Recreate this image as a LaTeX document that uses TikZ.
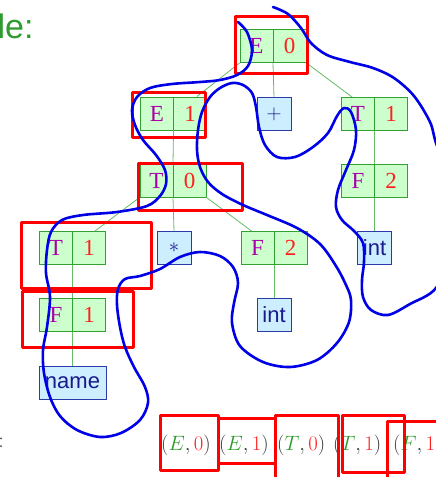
\documentclass[tikz,border=0pt]{standalone}
\usepackage{fontspec}
\newfontfamily\sansf{Liberation Sans}
\newfontfamily\seriff{Liberation Serif}
\definecolor{gfill}{HTML}{CCFFCC}
\definecolor{gdraw}{HTML}{33A033}
\definecolor{gedge}{HTML}{66BB66}
\definecolor{bfill}{HTML}{CCEEFF}
\definecolor{bdraw}{HTML}{2A3AAA}
\definecolor{btext}{HTML}{1A1A8C}
\definecolor{mag}{HTML}{AA00AA}
\definecolor{numred}{HTML}{FF2020}
\definecolor{ttlgreen}{HTML}{2E9B2E}
\definecolor{mgreen}{HTML}{2A9A2A}
\definecolor{penblue}{HTML}{0000E6}
\tikzset{
  gbox/.style={draw=gdraw, fill=gfill, line width=0.9pt, minimum width=66pt, minimum height=33pt, inner sep=0pt},
  bbox/.style={draw=bdraw, fill=bfill, line width=0.9pt, minimum width=34pt, minimum height=33pt, inner sep=0pt, text=btext, font=\sansf\fontsize{22}{24}\selectfont},
  cell/.style={inner sep=0pt, font=\seriff\fontsize{23}{25}\selectfont},
  tedge/.style={draw=gedge, line width=0.8pt},
  redmark/.style={draw=red, line width=3pt, line join=round},
  pen/.style={draw=penblue, line width=2.6pt, line cap=round, line join=round},
  tuple/.style={anchor=base west, inner sep=0pt, text=black!80, font=\fontsize{22}{24}\selectfont},
}
\newcommand\gbx[5]{%
  \node[gbox] (#1) at (#2,#3) {};
  \draw[draw=gdraw, line width=0.9pt] (#1.north) -- (#1.south);
  \node[cell, text=mag] (#1-l) at ([xshift=-16.5pt]#1.center) {#4};
  \node[cell, text=numred] (#1-r) at ([xshift=16.5pt]#1.center) {#5};
}
\newcommand\tpl[2]{$({\color{mgreen}#1},{\color{numred}#2})$}
\begin{document}
\begin{tikzpicture}[x=1pt,y=-1pt]
\useasboundingbox (0,0) rectangle (436,477);
% title fragments
\node[anchor=base west, inner sep=0pt, text=ttlgreen, font=\sansf\fontsize{34}{36}\selectfont] (title) at (-2.5,38) {le:};
\node[anchor=base west, inner sep=0pt, text=black!80, font=\fontsize{22}{24}\selectfont] (colon) at (-1.8,447) {:};
% tree nodes
\gbx{E0}{273}{46}{E}{0}
\gbx{E1}{173.5}{113.5}{E}{1}
\gbx{T1r}{374.5}{114}{T}{1}
\gbx{T0}{173}{180.5}{T}{0}
\gbx{F2r}{374.5}{181}{F}{2}
\gbx{T1l}{72.5}{248}{T}{1}
\gbx{F2m}{274}{248}{F}{2}
\gbx{F1}{72.5}{315}{F}{1}
\node[bbox] (plus) at (274,114) {$+$};
\node[bbox] (star) at (174,248) {$\ast$};
\node[bbox] (intR) at (374.5,248) {int};
\node[bbox] (intM) at (274,315) {int};
\node[bbox, minimum width=67pt] (name) at (72.5,382.5) {name};
% tree edges
\draw[tedge] (E0.south west) -- ([xshift=-10pt]E1.north east);
\draw[tedge] (E0.south) -- (plus.north);
\draw[tedge] (E0.south east) -- ([xshift=11pt]T1r.north west);
\draw[tedge] (E1.south) -- (T0.north);
\draw[tedge] (T1r.south) -- (F2r.north);
\draw[tedge] (F2r.south) -- (intR.north);
\draw[tedge] (T0.south west) -- ([xshift=-11pt]T1l.north east);
\draw[tedge] (T0.south) -- (star.north);
\draw[tedge] (T0.south east) -- ([xshift=11pt]F2m.north west);
\draw[tedge] (T1l.south) -- (F1.north);
\draw[tedge] (F2m.south) -- (intM.north);
\draw[tedge] (F1.south) -- (name.north);
% handle sequence
\node[tuple] (h1) at (161,450) {\tpl{E}{0}};
\node[tuple] (h2) at (219,450) {\tpl{E}{1}};
\node[tuple] (h3) at (277,450) {\tpl{T}{0}};
\node[tuple] (h4) at (333,450) {\tpl{T}{1}};
\node[tuple] (h5) at (393,450) {$({\color{mgreen}F},{\color{numred}1}$};
% red annotation boxes
\draw[redmark] (235,16) rectangle (307,73);
\draw[redmark] (132,92) rectangle (205,137);
\draw[redmark] (138,163) rectangle (242,210);
\draw[redmark] (21,222) rectangle (151,288);
\draw[redmark] (22,291) rectangle (133,347);
\draw[redmark] (160,415) rectangle (218,470);
\draw[redmark] (218,418) rectangle (275,463);
\draw[redmark] (275,415) rectangle (338,485);
\draw[redmark] (342,415) rectangle (404,472);
\draw[redmark] (387,421) rectangle (450,480);
% freehand blue stroke
\draw[pen] plot[smooth, tension=0.55] coordinates {
(238,22) (247,32) (252,50) (248,66) (237,75) (220,80) (200,82) (172,84) (150,88) (137,97) (132,110) (135,125) (143,140) (156,155) (165,170) (166,184) (160,196) (147,206) (117,212) (83,215) (62,220) (51,232) (47,250) (46,273) (50,297) (47,327) (43,350) (44,373) (50,397) (60,416) (77,430) (100,437) (121,433) (140,420) (148,403) (145,387) (134,367) (125,347) (120,327) (117,305) (118,289) (125,279) (140,276) (160,269) (180,257) (200,252) (220,256) (233,267) (238,283) (234,303) (232,323) (240,346) (263,362) (290,367) (317,360) (337,343) (349,322) (351,300) (346,285) (336,266) (320,244) (297,228) (267,215) (243,205) (222,194) (208,182) (200,167) (197,150) (198,130) (202,112) (210,97) (220,88) (232,83) (243,85) (252,93) (256,107) (259,127) (265,145) (277,157) (295,157) (313,147) (328,133) (337,116) (344,108) (351,112) (356,130) (354,150) (346,170) (338,190) (336,207) (342,220) (354,231) (363,243) (364,262) (362,280) (363,297) (371,310) (388,315) (410,304) (436,288) (452,250) (452,190) (436,143) (430,122) (414,96) (394,78) (373,68) (350,62) (327,55) (311,43) (301,28) (288,14) (273,7)};
\end{tikzpicture}
\end{document}
